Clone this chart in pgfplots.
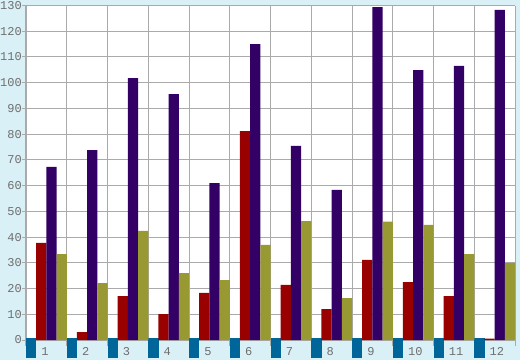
\documentclass[border=0pt]{standalone}
\usepackage{pgfplots}
\pgfplotsset{compat=1.18}
\usepackage{fontspec}
\setmainfont{Liberation Mono}
\definecolor{bgblue}{HTML}{DAF0F7}
\definecolor{boxblue}{HTML}{006699}
\definecolor{cred}{HTML}{990000}
\definecolor{cpurple}{HTML}{330066}
\definecolor{colive}{HTML}{999933}
\definecolor{gridgray}{HTML}{AAAAAA}
\definecolor{txtgray}{HTML}{6E6E6E}
\newcommand\lbl[1]{\textcolor{boxblue}{\rule[-3pt]{10.25pt}{20pt}}\hspace{5pt}#1}
\begin{document}
\begin{tikzpicture}[x=1pt,y=1pt]
\fill[bgblue] (0,0) rectangle (520,360);
\begin{axis}[
  at={(26pt,20pt)}, anchor=south west,
  scale only axis, width=489pt, height=334.5pt,
  xmin=-0.5, xmax=11.5, ymin=0, ymax=130,
  axis background/.style={fill=white},
  axis line style={draw=none},
  grid=major, major grid style={draw=gridgray, line width=1pt},
  ytick={0,10,...,130},
  xtick={-0.5,0.5,...,11.5},
  xticklabels={\lbl{1},\lbl{2},\lbl{3},\lbl{4},\lbl{5},\lbl{6},\lbl{7},\lbl{8},\lbl{9},\lbl{10},\lbl{11},\lbl{12},{}},
  xtick pos=lower, ytick pos=left,
  tick align=outside,
  major tick length=4pt,
  xtick style={draw=gridgray, line width=1pt, /pgfplots/major tick length=6pt},
  ytick style={draw=gridgray, line width=1pt},
  xticklabel style={anchor=north west, inner sep=0pt, yshift=6pt, font=\fontsize{12}{12}\selectfont, text=txtgray},
  yticklabel style={anchor=east, inner sep=0pt, font=\fontsize{12}{12}\selectfont, text=txtgray},
  /pgf/number format/assume math mode=true,
  clip=false,
]
\addplot[ybar, bar width=10.25pt, bar shift=-5.2pt, fill=cred, draw=none] coordinates {
(0,37.7) (1,3.1) (2,17.1) (3,10.1) (4,18.3) (5,81.2) (6,21.4) (7,12) (8,31.1) (9,22.5) (10,17.1) (11,0.5)};
\addplot[ybar, bar width=10.25pt, bar shift=5.1pt, fill=cpurple, draw=none] coordinates {
(0,67.3) (1,73.8) (2,101.8) (3,95.6) (4,61) (5,115) (6,75.4) (7,58.3) (8,129.4) (9,104.9) (10,106.5) (11,128.3)};
\addplot[ybar, bar width=10.25pt, bar shift=15.3pt, fill=colive, draw=none] coordinates {
(0,33.4) (1,22.1) (2,42.4) (3,26) (4,23.3) (5,37) (6,46.2) (7,16.3) (8,46) (9,44.7) (10,33.4) (11,30)};
\end{axis}
\pgfresetboundingbox
\useasboundingbox (0,0) rectangle (520,360);
\end{tikzpicture}
\end{document}
